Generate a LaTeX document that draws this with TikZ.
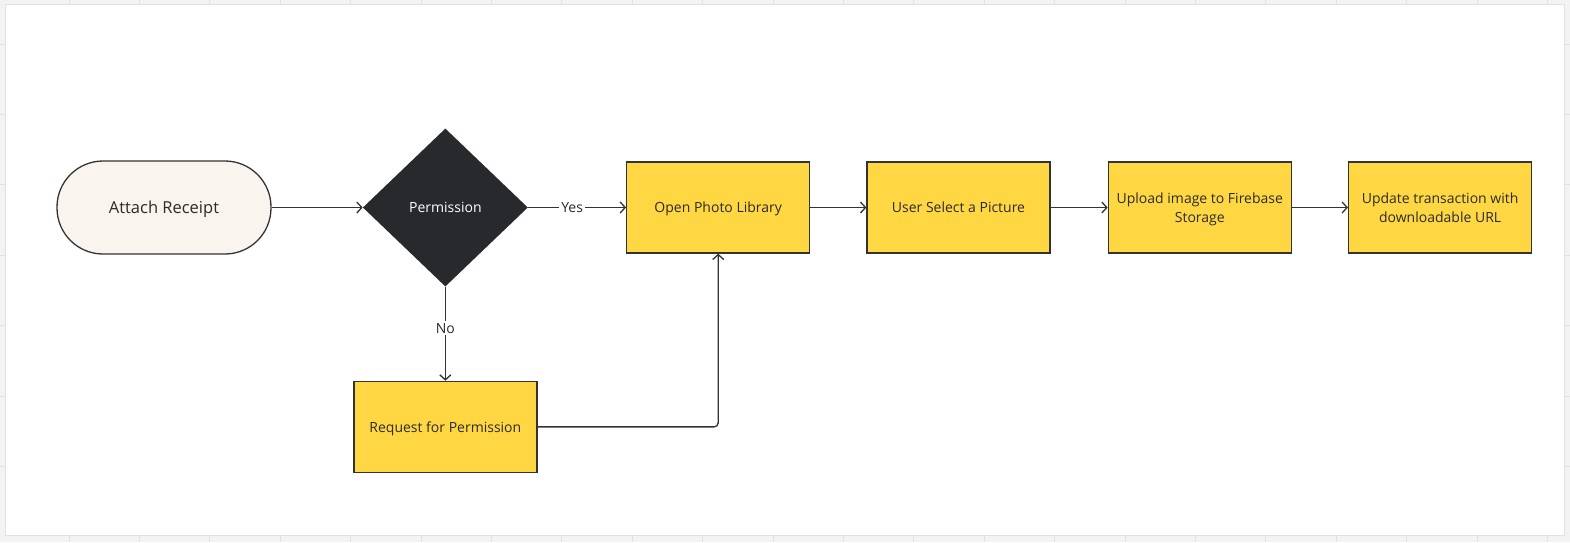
\documentclass[tikz,border=0pt]{standalone}
\usepackage{fontspec}
\setmainfont{Open Sans}
\usetikzlibrary{arrows.meta,positioning,shapes.geometric}
\definecolor{ink}{HTML}{2B2B2B}
\definecolor{edge}{HTML}{333333}
\definecolor{note}{HTML}{FFD742}
\definecolor{cream}{HTML}{F9F5EE}
\definecolor{night}{HTML}{28292D}
\definecolor{canvas}{HTML}{F3F3F3}
\definecolor{gridln}{HTML}{E2E2E2}
\tikzset{
  stepbox/.style={draw=edge, fill=note, line width=1.3pt, minimum width=183pt, minimum height=91pt,
              inner sep=4pt, text depth=0pt, font=\fontsize{14}{19}\selectfont, align=center, text=ink},
  term/.style={draw=edge, fill=cream, line width=1.3pt, rounded corners=46pt, minimum width=214pt,
              minimum height=93pt, text depth=0pt, font=\fontsize{16.5}{20}\selectfont, text=ink},
  ask/.style={diamond, fill=night, minimum width=165pt, minimum height=158pt, inner sep=0pt,
              text depth=0pt, font=\fontsize{14}{18}\selectfont, text=white},
  lbl/.style={fill=white, inner sep=2pt, font=\fontsize{14}{18}\selectfont, text=ink},
  flow/.style={-{Straight Barb[length=5pt,width=11pt]}, line width=1.3pt, draw=edge},
}
\begin{document}
\begin{tikzpicture}[x=1pt, y=1pt]
    \useasboundingbox (0,0) rectangle (1570,-542);
    \fill[canvas] (0,0) rectangle (1570,-542);
    \foreach \gx in {0,...,22} \draw[gridln, line width=1pt] ({-1.4+70.4*\gx},0) -- ++(0,-542);
    \foreach \gy in {0,...,7} \draw[gridln, line width=1pt] (0,{-44+70.4-70.4*\gy}) -- ++(1570,0);
    \filldraw[fill=white, draw=gridln, line width=1pt] (5,-4) rectangle (1564,-535);
    \node[term] (attach) at (164,-207.5) {Attach Receipt};
    \node[ask, right=91pt of attach] (perm) {Permission};
    \node[stepbox, right=98pt of perm] (open) {Open Photo Library};
    \node[stepbox, right=56pt of open] (pick) {User Select a Picture};
    \node[stepbox, right=57pt of pick] (upload) {Upload image to Firebase\\Storage};
    \node[stepbox, right=56pt of upload] (update) {Update transaction with\\downloadable URL};
    \node[stepbox, below=94pt of perm] (req) {Request for Permission};
    \draw[flow] (attach) -- (perm);
    \draw[flow] (perm) -- node[lbl, pos=.45] {Yes} (open);
    \draw[flow] (perm) -- node[lbl, pos=.44] {No} (req);
    \draw[flow, rounded corners=4pt] (req.east) -| (open.south);
    \draw[flow] (open) -- (pick); \draw[flow] (pick) -- (upload); \draw[flow] (upload) -- (update);
  \end{tikzpicture}
\end{document}
